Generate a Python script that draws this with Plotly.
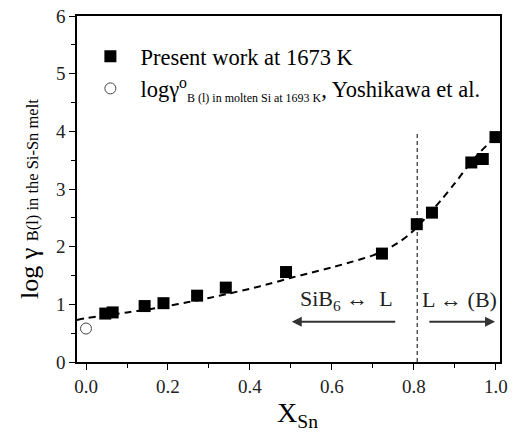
import plotly.graph_objects as go

# data
x_present = [0.047, 0.065, 0.143, 0.189, 0.271, 0.341, 0.488, 0.722, 0.807, 0.844, 0.940, 0.968, 0.999]
y_present = [0.84, 0.86, 0.97, 1.02, 1.15, 1.29, 1.56, 1.88, 2.39, 2.59, 3.46, 3.52, 3.90]
x_yoshi = [0.0]
y_yoshi = [0.58]
x_fit = [-0.022, 0.0, 0.05, 0.1, 0.15, 0.2, 0.25, 0.3, 0.35, 0.4, 0.45, 0.5, 0.55, 0.6, 0.65,
         0.7, 0.73, 0.76, 0.79, 0.81, 0.84, 0.87, 0.9, 0.93, 0.96, 1.0]
y_fit = [0.73, 0.76, 0.81, 0.86, 0.91, 0.97, 1.04, 1.11, 1.19, 1.27, 1.36, 1.46, 1.55, 1.64, 1.74,
         1.85, 1.94, 2.06, 2.22, 2.36, 2.59, 2.84, 3.1, 3.38, 3.63, 3.91]
x_boundary = 0.808
y_boundary_top = 4.0

FONT = "Liberation Serif"

fig = go.Figure()
fig.add_trace(go.Scatter(x=x_fit, y=y_fit, mode="lines",
                         line=dict(color="black", width=2, dash="7px,5px", shape="spline", smoothing=0.8),
                         showlegend=False, hoverinfo="skip"))
fig.add_trace(go.Scatter(x=[x_boundary, x_boundary], y=[0, y_boundary_top], mode="lines",
                         line=dict(color="black", width=1, dash="4px,3px"), showlegend=False))
fig.add_trace(go.Scatter(x=x_present, y=y_present, mode="markers", name="Present work at 1673 K",
                         marker=dict(symbol="square", size=12, color="black")))
fig.add_trace(go.Scatter(x=x_yoshi, y=y_yoshi, mode="markers",
                         name="logγ<sup>o</sup><sub><span style='font-size:12px'>B (l) in molten Si at 1693 K</span></sub>, Yoshikawa et al.",
                         marker=dict(symbol="circle-open", size=11, color="#444", line=dict(width=1))))

# arrows
fig.add_annotation(x=0.502, y=0.70, ax=0.758, ay=0.70, xref="x", yref="y", axref="x", ayref="y",
                   text="", showarrow=True, arrowhead=2, arrowsize=1, arrowwidth=2, arrowcolor="#333")
fig.add_annotation(x=0.998, y=0.70, ax=0.834, ay=0.70, xref="x", yref="y", axref="x", ayref="y",
                   text="", showarrow=True, arrowhead=2, arrowsize=1, arrowwidth=2, arrowcolor="#333")
fig.add_annotation(x=0.635, y=1.08, xref="x", yref="y", showarrow=False,
                   text="SiB<sub>6</sub> ↔  L", font=dict(family=FONT, size=22, color="#222"))
fig.add_annotation(x=0.912, y=1.08, xref="x", yref="y", showarrow=False,
                   text="L ↔ (B)", font=dict(family=FONT, size=22, color="#222"))

# axis titles
fig.add_annotation(x=-0.112, y=0.47, xref="paper", yref="paper", showarrow=False, textangle=-90,
                   xanchor="center", yanchor="middle",
                   text="log γ <span style='font-size:16.5px'>B(l) in the Si-Sn melt</span>",
                   font=dict(family=FONT, size=26, color="black"))
fig.add_annotation(x=0.522, y=-0.094, xref="paper", yref="paper", showarrow=False,
                   xanchor="center", yanchor="top",
                   text="X<sub>Sn</sub>", font=dict(family=FONT, size=28, color="black"))

fig.update_layout(
    width=515, height=435,
    margin=dict(l=77, r=15, t=16, b=73, autoexpand=False),
    paper_bgcolor="white", plot_bgcolor="white",
    font=dict(family=FONT, color="black"),
    legend=dict(x=0.008, y=0.945, xanchor="left", yanchor="top", bgcolor="rgba(0,0,0,0)",
                font=dict(family=FONT, size=22.5), tracegroupgap=0, itemwidth=50),
    xaxis=dict(range=[-0.022, 1.01], tickvals=[0, 0.2, 0.4, 0.6, 0.8, 1.0],
               ticktext=["0.0", "0.2", "0.4", "0.6", "0.8", "1.0"],
               ticks="outside", ticklen=6, tickwidth=1, tickcolor="black",
               minor=dict(dtick=0.1, ticks="outside", ticklen=4, tickcolor="black"),
               showline=True, linecolor="black", linewidth=1.5, mirror=True, showgrid=False, zeroline=False,
               tickfont=dict(size=19, color="#222")),
    yaxis=dict(range=[0, 6], dtick=1, ticks="outside", ticklen=6, tickwidth=1, tickcolor="black",
               minor=dict(dtick=0.5, ticks="outside", ticklen=4, tickcolor="black"),
               showline=True, linecolor="black", linewidth=1.5, mirror=True, showgrid=False, zeroline=False,
               tickfont=dict(size=19, color="#222")),
)

fig.write_html("out.html")
